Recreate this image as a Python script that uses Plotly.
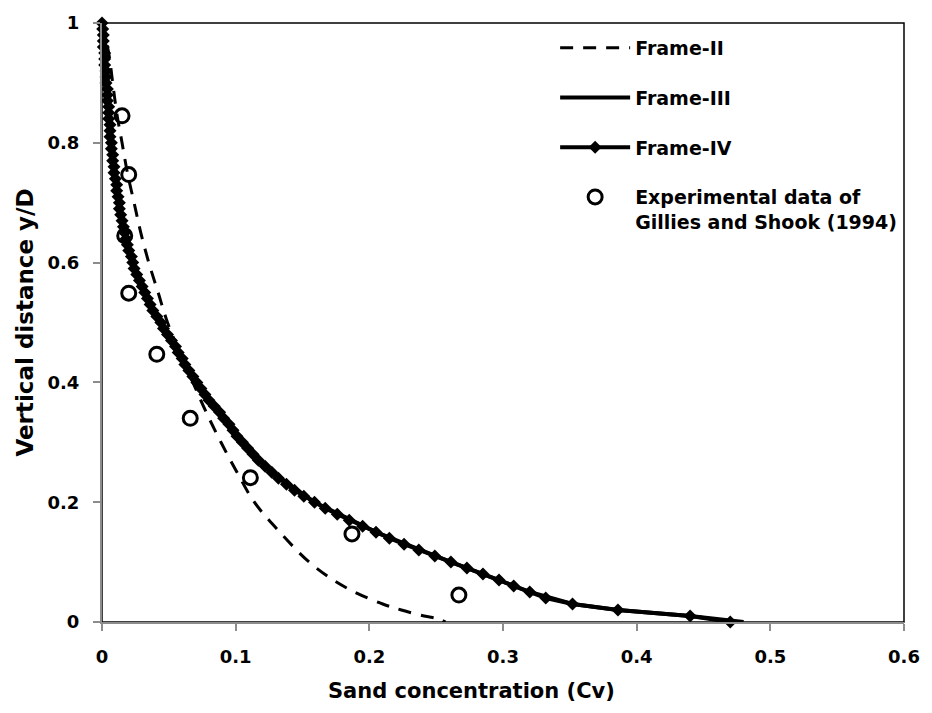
import plotly.graph_objects as go

# ---- data ----
FRAME_II_X = [0.000, 0.005, 0.008, 0.011, 0.015, 0.019, 0.024, 0.029, 0.035, 0.042,
              0.049, 0.058, 0.068, 0.078, 0.089, 0.101, 0.114, 0.133, 0.155, 0.173,
              0.189, 0.210, 0.224, 0.241, 0.252, 0.257]
FRAME_II_Y = [1.00, 0.95, 0.90, 0.85, 0.80, 0.75, 0.70, 0.65, 0.60, 0.55,
              0.50, 0.45, 0.40, 0.35, 0.30, 0.25, 0.20, 0.15, 0.10, 0.07,
              0.05, 0.03, 0.02, 0.01, 0.005, 0.00]

FRAME_III_X = [0.000, 0.002, 0.003, 0.005, 0.007, 0.009, 0.013, 0.017, 0.023, 0.032,
               0.044, 0.057, 0.071, 0.088, 0.105, 0.127, 0.159, 0.205, 0.261, 0.297,
               0.320, 0.352, 0.386, 0.440, 0.480]
FRAME_III_Y = [1.00, 0.95, 0.90, 0.85, 0.80, 0.75, 0.70, 0.65, 0.60, 0.55,
               0.50, 0.45, 0.40, 0.35, 0.30, 0.25, 0.20, 0.15, 0.10, 0.07,
               0.05, 0.03, 0.02, 0.01, 0.00]

FRAME_IV_Y = [0.00, 0.01, 0.02, 0.03, 0.04, 0.05, 0.06, 0.07, 0.08, 0.09,
              0.10, 0.11, 0.12, 0.13, 0.14, 0.15, 0.16, 0.17, 0.18, 0.19,
              0.20, 0.21, 0.22, 0.23, 0.24, 0.25, 0.26, 0.27, 0.28, 0.29,
              0.30, 0.31, 0.32, 0.33, 0.34, 0.35, 0.36, 0.37, 0.38, 0.39,
              0.40, 0.41, 0.42, 0.43, 0.44, 0.45, 0.46, 0.47, 0.48, 0.49,
              0.50, 0.51, 0.52, 0.53, 0.54, 0.55, 0.56, 0.57, 0.58, 0.59,
              0.60, 0.61, 0.62, 0.63, 0.64, 0.65, 0.66, 0.67, 0.68, 0.69,
              0.70, 0.71, 0.72, 0.73, 0.74, 0.75, 0.76, 0.77, 0.78, 0.79,
              0.80, 0.81, 0.82, 0.83, 0.84, 0.85, 0.86, 0.87, 0.88, 0.89,
              0.90, 0.91, 0.92, 0.93, 0.94, 0.95, 0.96, 0.97, 0.98, 0.99, 1.00]
FRAME_IV_X = [0.470, 0.440, 0.386, 0.352, 0.332, 0.320, 0.308, 0.297, 0.285, 0.273,
              0.261, 0.249, 0.237, 0.226, 0.215, 0.205, 0.195, 0.185, 0.176, 0.167,
              0.159, 0.151, 0.144, 0.138, 0.132, 0.127, 0.122, 0.117, 0.113, 0.109,
              0.105, 0.101, 0.098, 0.095, 0.091, 0.088, 0.084, 0.080, 0.077, 0.074,
              0.071, 0.068, 0.065, 0.062, 0.060, 0.057, 0.055, 0.052, 0.049, 0.046,
              0.044, 0.041, 0.038, 0.036, 0.034, 0.032, 0.030, 0.028, 0.026, 0.024,
              0.023, 0.022, 0.020, 0.019, 0.018, 0.017, 0.016, 0.015, 0.014, 0.013,
              0.013, 0.012, 0.011, 0.011, 0.010, 0.009, 0.009, 0.008, 0.008, 0.007,
              0.007, 0.006, 0.006, 0.006, 0.005, 0.005, 0.005, 0.004, 0.004, 0.004,
              0.003, 0.003, 0.003, 0.002, 0.002, 0.002, 0.001, 0.001, 0.001, 0.0005, 0.000]

EXP_X = [0.015, 0.020, 0.017, 0.020, 0.041, 0.066, 0.111, 0.187, 0.267]
EXP_Y = [0.845, 0.747, 0.645, 0.549, 0.447, 0.340, 0.241, 0.147, 0.045]

X_TICKS = [0, 0.1, 0.2, 0.3, 0.4, 0.5, 0.6]
Y_TICKS = [0, 0.2, 0.4, 0.6, 0.8, 1]

X_TITLE = "Sand concentration (Cv)"
Y_TITLE = "Vertical distance y/D"

FONT = "DejaVu Sans"

fig = go.Figure()
fig.add_trace(go.Scatter(
    x=FRAME_II_X, y=FRAME_II_Y, mode="lines", name="Frame-II",
    legendgroup="a", line=dict(color="black", width=3, dash="13px,10px", shape="spline"),
    cliponaxis=False))
fig.add_trace(go.Scatter(
    x=FRAME_III_X, y=FRAME_III_Y, mode="lines", name="Frame-III",
    legendgroup="b", line=dict(color="black", width=4), cliponaxis=False))
fig.add_trace(go.Scatter(
    x=FRAME_IV_X, y=FRAME_IV_Y, mode="lines+markers", name="Frame-IV",
    legendgroup="c", line=dict(color="black", width=4),
    marker=dict(symbol="diamond", size=10, color="black"), cliponaxis=False))
fig.add_trace(go.Scatter(
    x=EXP_X, y=EXP_Y, mode="markers",
    name="Experimental data of<br>Gillies and Shook (1994)",
    legendgroup="d",
    marker=dict(symbol="circle-open", size=14, color="black", line=dict(width=3, color="black")),
    cliponaxis=False))

fig.add_shape(type="rect", xref="paper", yref="paper", x0=0, x1=1, y0=0, y1=1,
              line=dict(color="black", width=1.5), layer="below")

# x-axis title (offset slightly left of centre, as in the reference)
fig.add_annotation(text=X_TITLE, xref="paper", yref="paper", x=0.461, y=-0.116,
                   xanchor="center", yanchor="middle", showarrow=False,
                   font=dict(family=FONT, size=21, weight="bold", color="black"))

fig.update_layout(
    width=932, height=713,
    margin=dict(l=102, r=26, t=19, b=91),
    plot_bgcolor="white", paper_bgcolor="white",
    font=dict(family=FONT, size=18, color="black", weight="bold"),
    showlegend=True,
    legend=dict(x=0.565, y=0.99, xanchor="left", yanchor="top", valign="top",
                bgcolor="rgba(0,0,0,0)", font=dict(family=FONT, size=19, weight="bold"),
                traceorder="grouped", tracegroupgap=22, itemwidth=70),
    xaxis=dict(range=[0, 0.6], tickvals=X_TICKS, showgrid=False, zeroline=False,
               showline=True, linecolor="#8c8c8c", linewidth=2,
               ticks="outside", ticklen=7, tickwidth=2, tickcolor="#8c8c8c",
               ticklabelstandoff=10,
               tickfont=dict(family=FONT, size=18, weight="bold")),
    yaxis=dict(range=[0, 1], tickvals=Y_TICKS, showgrid=False, zeroline=False,
               showline=True, linecolor="#8c8c8c", linewidth=2,
               ticks="outside", ticklen=7, tickwidth=2, tickcolor="#8c8c8c",
               ticklabelstandoff=10,
               tickfont=dict(family=FONT, size=18, weight="bold"),
               title=dict(text=Y_TITLE, standoff=7,
                          font=dict(family=FONT, size=23, weight="bold"))),
)

fig.write_html("out.html")
